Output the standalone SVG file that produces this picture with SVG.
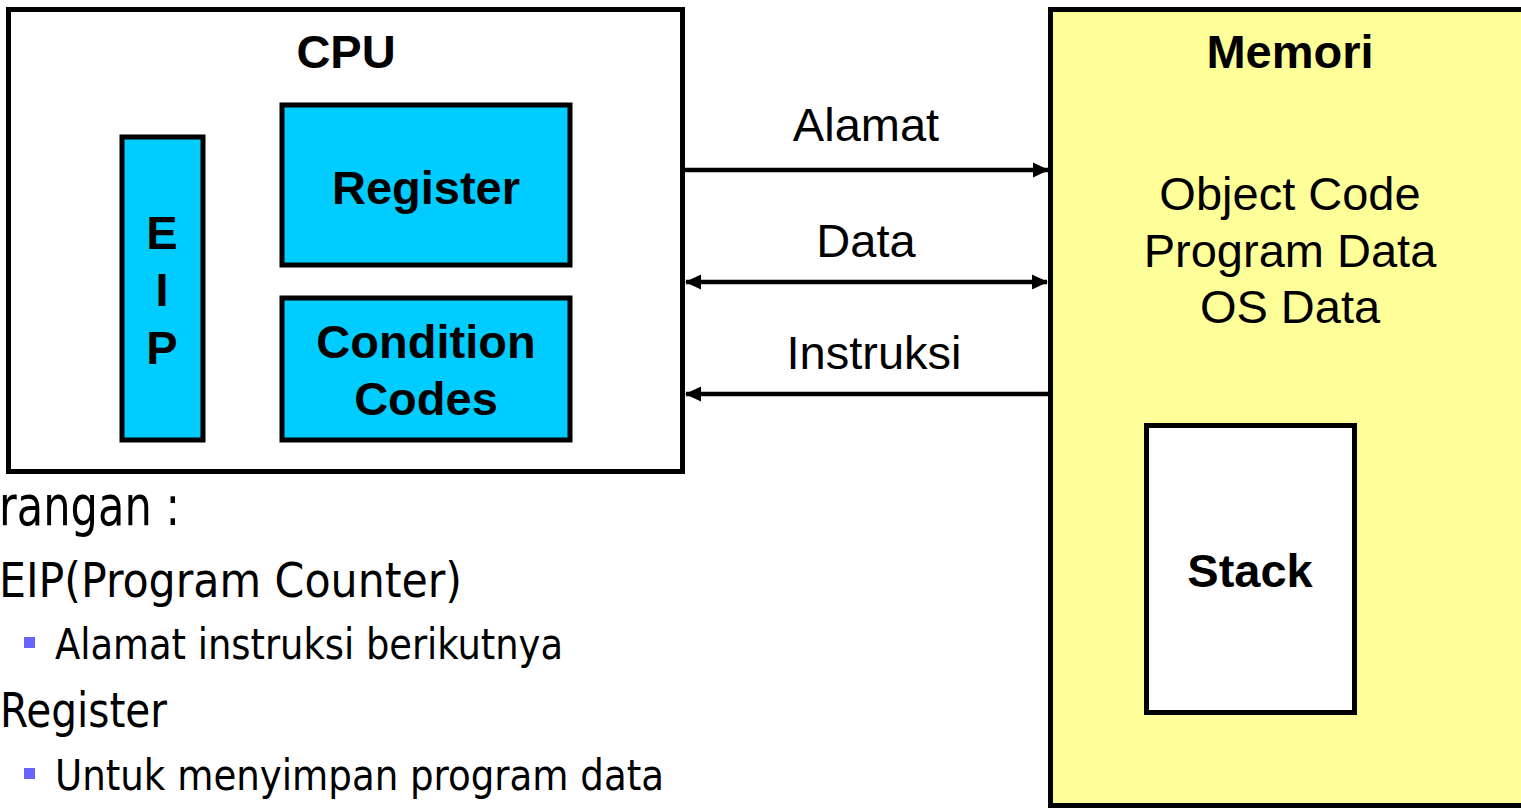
<svg xmlns="http://www.w3.org/2000/svg" width="1521" height="808" viewBox="0 0 1521 808">
<defs>
<style>
.box{stroke:#000;stroke-width:5}
.cyan{fill:#00CCFF}
.b{font-family:"Liberation Sans",Arial,sans-serif;font-weight:bold;font-size:47px;text-anchor:middle;fill:#000}
.r{font-family:"Liberation Sans",Arial,sans-serif;font-size:47px;text-anchor:middle;fill:#000}
.t{font-family:"DejaVu Sans Condensed","DejaVu Sans",sans-serif;font-stretch:condensed;fill:#000}
.conn{stroke:#000;stroke-width:4.5;fill:none}
.bul{fill:#6666FF}
</style>
<marker id="ah" viewBox="0 0 16 16" refX="15" refY="8" markerWidth="16" markerHeight="16" markerUnits="userSpaceOnUse" orient="auto-start-reverse">
<path d="M0,0.5 L16,8 L0,15.5 Z" fill="#000"/>
</marker>
</defs>
<rect width="1521" height="808" fill="#fff"/>
<g id="memori">
<rect class="box" x="1050.5" y="9.5" width="600" height="796" fill="#FFFF99"/>
<text class="b" x="1290" y="68">Memori</text>
<text class="r" x="1290" y="210">Object Code</text>
<text class="r" x="1290" y="267">Program Data</text>
<text class="r" x="1290" y="323">OS Data</text>
</g>
<g id="stack">
<rect class="box" x="1146.5" y="425.5" width="208" height="287" fill="#fff"/>
<text class="b" x="1250" y="587">Stack</text>
</g>
<g id="cpu">
<rect class="box" x="8.5" y="9.5" width="674" height="462" fill="#fff"/>
<text class="b" x="346" y="68">CPU</text>
</g>
<g id="eip">
<rect class="box cyan" x="122" y="137" width="81" height="303"/>
<text class="b" x="162" y="249">E</text>
<text class="b" x="162" y="306">I</text>
<text class="b" x="162" y="364">P</text>
</g>
<g id="register">
<rect class="box cyan" x="282" y="105" width="288" height="160"/>
<text class="b" x="426" y="204">Register</text>
</g>
<g id="condition-codes">
<rect class="box cyan" x="282" y="298" width="288" height="142"/>
<text class="b" x="426" y="358">Condition</text>
<text class="b" x="426" y="415">Codes</text>
</g>
<g id="connectors">
<line class="conn" x1="684" y1="170" x2="1048" y2="170" marker-end="url(#ah)"/>
<line class="conn" x1="686" y1="282" x2="1047" y2="282" marker-start="url(#ah)" marker-end="url(#ah)"/>
<line class="conn" x1="1048" y1="394" x2="686" y2="394" marker-end="url(#ah)"/>
<text class="r" x="866" y="141">Alamat</text>
<text class="r" x="866" y="257">Data</text>
<text class="r" x="874" y="369">Instruksi</text>
</g>
<g id="keterangan">
<text class="t" x="-1" y="525" font-size="55" textLength="181" lengthAdjust="spacingAndGlyphs">rangan :</text>
<text class="t" x="-1" y="597" font-size="48" textLength="463" lengthAdjust="spacingAndGlyphs">EIP(Program Counter)</text>
<rect class="bul" x="24" y="637" width="11" height="11"/>
<text class="t" x="55" y="659" font-size="42" textLength="508" lengthAdjust="spacingAndGlyphs">Alamat instruksi berikutnya</text>
<text class="t" x="0" y="727" font-size="48" textLength="167" lengthAdjust="spacingAndGlyphs">Register</text>
<rect class="bul" x="24" y="768" width="11" height="11"/>
<text class="t" x="55" y="790" font-size="42" textLength="609" lengthAdjust="spacingAndGlyphs">Untuk menyimpan program data</text>
</g>
</svg>
